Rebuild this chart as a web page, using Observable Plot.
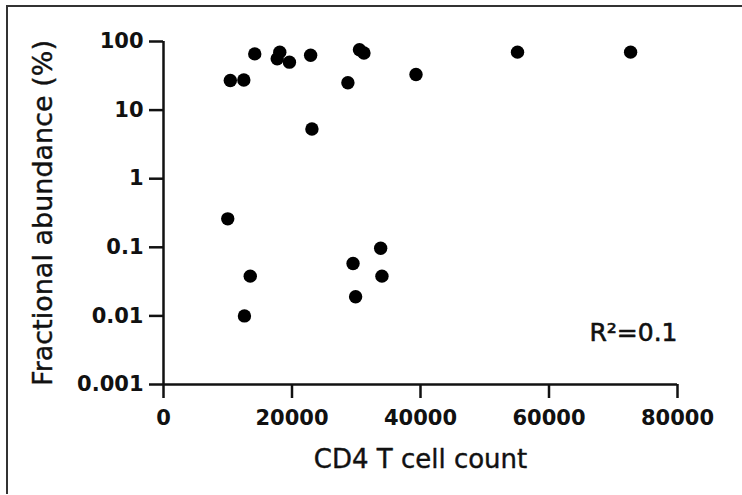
<!DOCTYPE html>
<html>
<head>
<meta charset="utf-8">
<script src="https://cdn.jsdelivr.net/npm/d3@7"></script>
<script src="https://cdn.jsdelivr.net/npm/@observablehq/plot@0.6"></script>
<style>
  body { margin: 0; background: #fff; }
  #wrap { position: relative; width: 742px; height: 495px; overflow: hidden; background: #fff; }
  #frame { position: absolute; left: 6px; top: 5px; width: 800px; height: 487px;
           border-left: 2px solid #333; border-top: 2px solid #333; pointer-events: none; }
  #chart { position: absolute; left: 0; top: 0; }
</style>
</head>
<body>
<div id="wrap"><div id="chart"></div><div id="frame"></div></div>
<script>
// CD4 T cell count (x) and fractional abundance in % (y)
const cd4 = [10400, 12500, 14200, 18100, 17700, 19600, 22900, 23100, 28700, 30500, 31200, 39300, 55100, 72700,
             10000, 13500, 12600, 29500, 33800, 34000, 29900];
const abundance = [27, 27.5, 66, 70, 56, 50, 63, 5.3, 25, 76, 68, 33, 70, 70,
                   0.26, 0.038, 0.01, 0.058, 0.097, 0.038, 0.019];

const xTicks = [0, 20000, 40000, 60000, 80000];
const yTicks = [0.001, 0.01, 0.1, 1, 10, 100];
const yTickLabels = ["0.001", "0.01", "0.1", "1", "10", "100"];
const xLabel = "CD4 T cell count";
const yLabel = "Fractional abundance (%)";
const annotation = ["R²=0.1"];

const points = cd4.map((x, i) => ({x, y: abundance[i]}));
const yFmt = new Map(yTicks.map((t, i) => [t, yTickLabels[i]]));

const chart = Plot.plot({
  width: 742,
  height: 495,
  marginLeft: 163,
  marginRight: 65,
  marginTop: 41,
  marginBottom: 111,
  style: {fontFamily: "DejaVu Sans", color: "#111", background: "transparent"},
  x: {domain: [0, 80000]},
  y: {type: "log", domain: [0.001, 100]},
  marks: [
    Plot.axisX({ticks: xTicks, tickSize: 14, tickPadding: 12, tickFormat: d => String(d),
                fontSize: 21, fontWeight: "bold", strokeWidth: 2.5, label: null}),
    Plot.axisY({ticks: yTicks, tickSize: 14, tickPadding: 6, tickFormat: d => yFmt.get(d),
                fontSize: 21, fontWeight: "bold", strokeWidth: 2.5, label: null}),
    Plot.ruleX([0], {y1: 0.001, y2: 100, strokeWidth: 2.5, stroke: "#111"}),
    Plot.ruleY([0.001], {x1: 0, x2: 80000, strokeWidth: 2.5, stroke: "#111"}),
    Plot.dot(points, {x: "x", y: "y", r: 6.7, fill: "#000", stroke: null}),
    Plot.text(annotation, {frameAnchor: "bottom-right", textAnchor: "end", lineAnchor: "bottom",
                           dy: -44, fontSize: 25, fill: "#111", stroke: "#111", strokeWidth: 0.6}),
    Plot.text([xLabel], {frameAnchor: "bottom", textAnchor: "middle", lineAnchor: "middle", dy: 75,
                         fontSize: 26, fill: "#111", stroke: "#111", strokeWidth: 0.4}),
    Plot.text([yLabel], {frameAnchor: "left", rotate: -90, textAnchor: "middle", lineAnchor: "middle",
                         dx: -120, fontSize: 27, fill: "#111", stroke: "#111", strokeWidth: 0.4})
  ]
});
document.getElementById("chart").appendChild(chart);
</script>
</body>
</html>
